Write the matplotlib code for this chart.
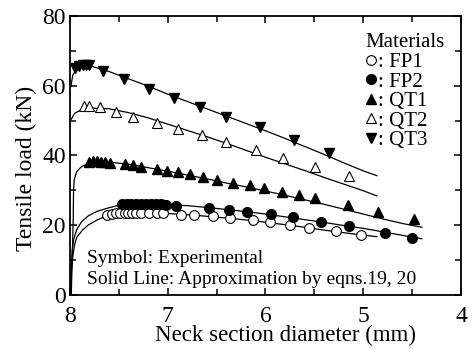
import numpy as np
import matplotlib
matplotlib.use('Agg')
import matplotlib.pyplot as plt

plt.rcParams['font.family'] = ['Liberation Serif', 'DejaVu Serif']

# experimental points (neck diameter mm, load kN)
fp1_d = [7.62, 7.57, 7.53, 7.49, 7.44, 7.40, 7.36, 7.32, 7.27, 7.19, 7.11, 7.05,
         6.86, 6.73, 6.54, 6.36, 6.13, 5.95, 5.75, 5.55, 5.28, 5.02]
fp1_p = [22.9, 23.1, 23.4, 23.4, 23.6, 23.6, 23.6, 23.6, 23.6, 23.4, 23.4, 23.4,
         22.9, 22.9, 22.5, 22.0, 21.5, 21.0, 20.1, 19.1, 18.4, 17.2]
fp2_d = [7.47, 7.42, 7.37, 7.32, 7.27, 7.22, 7.17, 7.12, 7.07, 7.02, 6.91,
         6.58, 6.37, 6.19, 5.94, 5.72, 5.43, 5.15, 4.78, 4.50]
fp2_p = [26.0, 26.1, 26.1, 26.1, 26.1, 26.1, 26.0, 26.0, 26.0, 25.9, 25.5,
         24.9, 24.4, 23.9, 23.2, 22.3, 21.0, 19.9, 17.9, 16.3]
qt1_d = [7.80, 7.76, 7.72, 7.68, 7.64, 7.59, 7.44, 7.35, 7.27, 7.11, 7.01, 6.89,
         6.77, 6.64, 6.50, 6.33, 6.16, 6.01, 5.83, 5.66, 5.49, 5.16, 4.85, 4.48]
qt1_p = [38.2, 38.3, 38.3, 38.2, 38.2, 37.8, 37.6, 37.3, 36.8, 36.1, 35.6, 35.2,
         34.6, 33.7, 33.0, 32.2, 31.5, 30.6, 29.6, 28.7, 27.9, 25.8, 23.9, 21.7]
qt2_d = [7.86, 7.80, 7.69, 7.53, 7.35, 7.11, 6.89, 6.65, 6.40, 6.10, 5.82, 5.49, 5.15]
qt2_p = [54.2, 54.2, 53.8, 52.6, 51.1, 49.2, 47.5, 45.9, 44.0, 41.6, 39.2, 36.8, 34.2]
qt3_d = [7.95, 7.91, 7.87, 7.83, 7.80, 7.66, 7.45, 7.19, 6.93, 6.67, 6.40, 6.06, 5.71, 5.35]
qt3_p = [65.0, 65.6, 65.9, 66.0, 66.0, 64.3, 61.8, 59.0, 56.4, 53.8, 51.1, 48.1, 44.4, 40.8]

# approximation curves (eqns 19, 20)
fp1_ld = [7.99, 7.985, 7.97, 7.95, 7.93, 7.87, 7.81, 7.72, 7.64, 7.5, 7.3, 7.1,
          6.9, 6.7, 6.5, 6.3, 6.1, 5.9, 5.7, 5.5, 5.3, 5.1, 4.86]
fp1_lp = [0, 6, 11, 14.5, 16.5, 18.6, 20.1, 21.5, 22.5, 23.2, 23.6, 23.5,
          23.2, 22.8, 22.3, 21.8, 21.2, 20.5, 19.8, 19.0, 18.2, 17.5, 16.7]
fp2_ld = [7.99, 7.985, 7.975, 7.96, 7.93, 7.88, 7.81, 7.72, 7.6, 7.5, 7.3, 7.0,
          6.8, 6.6, 6.4, 6.2, 6.0, 5.8, 5.6, 5.4, 5.2, 5.0, 4.8, 4.6, 4.4]
fp2_lp = [0, 8, 13, 16, 18.7, 21, 22.7, 24.0, 25.0, 25.7, 26.2, 26.0,
          25.6, 25.1, 24.5, 23.9, 23.2, 22.4, 21.6, 20.8, 19.9, 19.1, 18.1, 17.1, 16.1]
qt1_ld = [7.985, 7.965, 7.962, 7.955, 7.93, 7.88, 7.84, 7.74, 7.6, 7.4, 7.2, 7.0,
          6.8, 6.6, 6.4, 6.2, 6.0, 5.8, 5.6, 5.4, 5.2, 5.0, 4.8, 4.6, 4.4]
qt1_lp = [0, 22, 30, 33, 35.4, 36.8, 37.3, 38.0, 38.1, 37.5, 36.5, 35.5,
          34.4, 33.3, 32.1, 31.0, 29.8, 28.6, 27.3, 26.0, 24.6, 23.2, 21.8, 20.5, 19.4]
qt2_ld = [7.99, 7.95, 7.88, 7.8, 7.6, 7.4, 7.2, 7.0, 6.8, 6.6, 6.4, 6.2, 6.0,
          5.8, 5.6, 5.4, 5.2, 5.0, 4.86]
qt2_lp = [50.2, 52.1, 53.2, 53.6, 53.4, 52.3, 50.8, 49.0, 47.2, 45.4, 43.5, 41.5, 39.5,
          37.6, 35.7, 33.7, 31.8, 29.9, 28.4]
qt3_ld = [7.99, 7.97, 7.93, 7.85, 7.78, 7.6, 7.4, 7.2, 7.0, 6.8, 6.6, 6.4, 6.2, 6.0,
          5.8, 5.6, 5.4, 5.2, 5.0, 4.86]
qt3_lp = [59.7, 63.0, 65.0, 65.8, 65.6, 64.1, 62.0, 59.9, 57.6, 55.5, 53.4, 51.3, 49.2, 47.1,
          44.9, 42.6, 40.3, 37.9, 35.6, 34.2]

fig = plt.figure(figsize=(4.75, 3.49), dpi=100)
ax = fig.add_axes([0.147, 0.155, 0.8235, 0.799])

for ld, lp in [(fp1_ld, fp1_lp), (fp2_ld, fp2_lp), (qt1_ld, qt1_lp),
               (qt2_ld, qt2_lp), (qt3_ld, qt3_lp)]:
    ax.plot(ld, lp, color='black', lw=0.9, zorder=2)

ms = 7
ax.plot(fp1_d, fp1_p, 'o', mfc='white', mec='black', mew=0.8, ms=ms, ls='none', label=': FP1', zorder=3)
ax.plot(fp2_d, fp2_p, 'o', mfc='black', mec='black', ms=ms, ls='none', label=': FP2', zorder=3)
ax.plot(qt1_d, qt1_p, '^', mfc='black', mec='black', ms=ms, ls='none', label=': QT1', zorder=3)
ax.plot(qt2_d, qt2_p, '^', mfc='white', mec='black', mew=0.8, ms=ms, ls='none', label=': QT2', zorder=3)
ax.plot(qt3_d, qt3_p, 'v', mfc='black', mec='black', ms=ms, ls='none', label=': QT3', zorder=3)

ax.set_xlim(8, 4)
ax.set_ylim(0, 80)
ax.set_xticks([8, 7, 6, 5, 4])
ax.set_xticks(np.arange(4, 8, 0.5), minor=True)
ax.set_yticks([0, 20, 40, 60, 80])
ax.set_yticks([10, 30, 50, 70], minor=True)
ax.tick_params(which='both', direction='in', top=True, right=True, labelsize=17, width=1.1)
ax.tick_params(which='major', length=5)
ax.tick_params(which='minor', length=4)
ax.tick_params(axis='x', which='major', pad=8)
ax.tick_params(axis='y', which='major', pad=3)
for s in ax.spines.values():
    s.set_linewidth(1.3)

ax.set_xlabel('Neck section diameter (mm)', fontsize=16.5)
ax.xaxis.set_label_coords(0.552, -0.108)
ax.set_ylabel('Tensile load (kN)', fontsize=17)
ax.yaxis.set_label_coords(-0.085, 0.453)

ax.text(0.045, 0.129, 'Symbol: Experimental', transform=ax.transAxes, fontsize=14, va='center')
ax.text(0.045, 0.057, 'Solid Line: Approximation by eqns.19, 20', transform=ax.transAxes,
        fontsize=14, va='center')

leg = ax.legend(title='Materials', loc='upper right', bbox_to_anchor=(0.995, 0.99),
                frameon=False, fontsize=15, title_fontsize=15, alignment='left',
                handlelength=0.6, handletextpad=0.0, labelspacing=0.0,
                borderpad=0.2, numpoints=1)

fig.savefig('out.png', dpi=100)
